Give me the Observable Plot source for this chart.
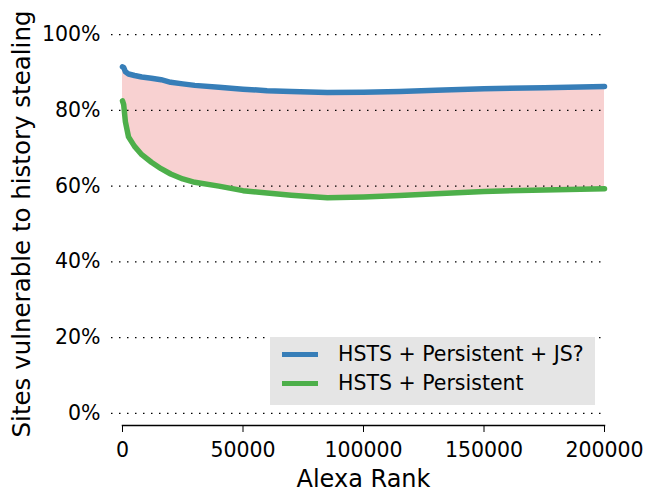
<!DOCTYPE html>
<html>
<head>
<meta charset="utf-8">
<script src="https://cdn.jsdelivr.net/npm/d3@7"></script>
<script src="https://cdn.jsdelivr.net/npm/@observablehq/plot@0.6"></script>
<style>
  body { margin: 0; background: #fff; }
  #wrap { position: relative; width: 645px; height: 492px; font-family: "DejaVu Sans", sans-serif; }
  #legend { position: absolute; left: 270px; top: 337px; width: 325px; height: 68px; background: #e5e5e5; }
  .item { position: absolute; left: 12px; height: 28px; display: flex; align-items: center; font-size: 20.5px; color: #000; white-space: nowrap; }
  .swatch { width: 36px; height: 5px; margin-right: 20px; }
</style>
</head>
<body>
<div id="wrap"></div>
<script>
const ranks = [0, 500, 1200, 2500, 5000, 8000, 12000, 16000, 20000, 25000, 30000, 40000, 50000, 60000, 70000, 85000, 100000, 115000, 130000, 150000, 175000, 200000];
const hstsPersistentJS = [91.5, 91.3, 90.2, 89.6, 89.2, 88.8, 88.5, 88.1, 87.4, 87.0, 86.6, 86.1, 85.6, 85.2, 85.0, 84.7, 84.8, 85.0, 85.3, 85.7, 86.0, 86.3];
const hstsPersistent = [82.5, 81.5, 77.0, 73.0, 70.5, 68.3, 66.3, 64.6, 63.2, 61.9, 61.0, 60.0, 58.8, 58.2, 57.6, 56.9, 57.1, 57.5, 58.0, 58.6, 59.0, 59.3];
const seriesNames = ["HSTS + Persistent + JS?", "HSTS + Persistent"];
const seriesColors = ["#377eb8", "#4daf4a"];
const yTicks = [0, 20, 40, 60, 80, 100];
const xTicks = [0, 50000, 100000, 150000, 200000];
const xLabel = "Alexa Rank";
const yLabel = "Sites vulnerable to history stealing";

const rows = ranks.map((r, i) => ({rank: r, top: hstsPersistentJS[i], bottom: hstsPersistent[i]}));

const chart = Plot.plot({
  width: 645,
  height: 492,
  marginLeft: 122,
  marginRight: 41,
  marginTop: 22,
  marginBottom: 67,
  style: {fontFamily: "DejaVu Sans, sans-serif", fontSize: "20px", color: "#000", background: "#fff"},
  x: {domain: [0, 200000]},
  y: {domain: [-3.2, 103.2]},
  marks: [
    Plot.areaY(rows, {x: "rank", y1: "bottom", y2: "top", fill: "#f8d1d1"}),
    Plot.ruleY(yTicks, {y: d => d, insetLeft: -11, stroke: "#000", strokeWidth: 1.2, strokeDasharray: "1.5,6.5"}),
    Plot.lineY(rows, {x: "rank", y: "top", stroke: seriesColors[0], strokeWidth: 5.5}),
    Plot.lineY(rows, {x: "rank", y: "bottom", stroke: seriesColors[1], strokeWidth: 5.5}),
    Plot.frame({anchor: "bottom", stroke: "#000", strokeWidth: 1.5}),
    Plot.axisX({ticks: xTicks, tickSize: 7, tickPadding: 10, tickFormat: d => String(d), label: null, fontSize: 20.5}),
    Plot.axisY({ticks: yTicks, tickSize: 0, tickPadding: 22, tickFormat: d => d + "%", label: null, fontSize: 20.5}),
    Plot.text([xLabel], {frameAnchor: "bottom", text: d => d, dy: 61, fontSize: 24}),
    Plot.text([yLabel], {frameAnchor: "left", textAnchor: "middle", text: d => d, rotate: -90, dx: -100, fontSize: 24.5})
  ]
});

const wrap = document.getElementById("wrap");
wrap.appendChild(chart);
const legend = document.createElement("div");
legend.id = "legend";
seriesNames.forEach((name, i) => {
  const item = document.createElement("div");
  item.className = "item";
  item.style.top = (3 + i * 29) + "px";
  const sw = document.createElement("span");
  sw.className = "swatch";
  sw.style.background = seriesColors[i];
  const t = document.createElement("span");
  t.textContent = name;
  item.appendChild(sw);
  item.appendChild(t);
  legend.appendChild(item);
});
wrap.appendChild(legend);
</script>
</body>
</html>
